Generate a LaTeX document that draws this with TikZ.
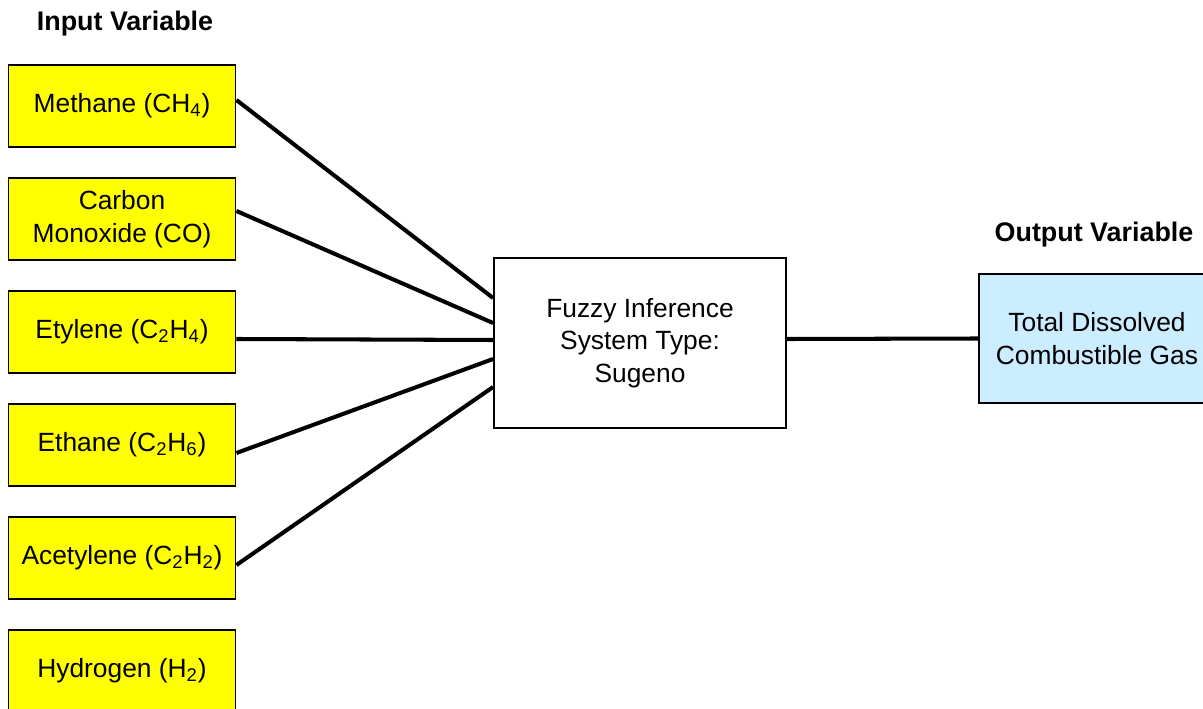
\documentclass[tikz,border=0pt]{standalone}
\usepackage{fontspec}
\setmainfont{Liberation Sans}
\definecolor{gasyellow}{RGB}{255,255,0}
\definecolor{outblue}{RGB}{204,236,255}
\begin{document}
\begin{tikzpicture}[x=0.02cm,y=-0.02cm,
  every node/.style={font=\fontsize{15}{18.5}\selectfont,align=center},
  gas/.style={draw,line width=1.1pt,fill=gasyellow,minimum width=4.54cm,minimum height=1.64cm,inner sep=0pt},
  fisbox/.style={draw,line width=1.1pt,fill=white,minimum width=5.84cm,minimum height=3.4cm,inner sep=0pt},
  outbox/.style={draw,line width=1.1pt,fill=outblue,minimum width=4.72cm,minimum height=2.58cm,inner sep=0pt},
  title/.style={font=\fontsize{15.3}{18}\selectfont\bfseries},
  link/.style={line width=2.3pt}]
\clip (0,0) rectangle (1203,709);
\node[title] (tin) at (125,24) {Input Variable};
\node[title] (tout) at (1094,235) {Output Variable};
\node[gas] (ch4) at (122,106) {Methane (CH\textsubscript{4})};
\node[gas] (co) at (122,219) {Carbon\\Monoxide (CO)};
\node[gas] (c2h4) at (122,332) {Etylene (C\textsubscript{2}H\textsubscript{4})};
\node[gas] (c2h6) at (122,445) {Ethane (C\textsubscript{2}H\textsubscript{6})};
\node[gas] (c2h2) at (122,558) {Acetylene (C\textsubscript{2}H\textsubscript{2})};
\node[gas] (h2) at (122,671) {Hydrogen (H\textsubscript{2})};
\node[fisbox] (fis) at (640,343) {Fuzzy Inference\\System Type:\\Sugeno};
\node[outbox] (tdcg) at (1097,338.5) {Total Dissolved\\Combustible Gas};
\draw[link] ([yshift=0.12cm]ch4.east)--([yshift=0.9cm]fis.west)
  ([yshift=0.16cm]co.east)--([yshift=0.4cm]fis.west)
  ([yshift=-0.14cm]c2h4.east)--([yshift=0.06cm]fis.west)
  ([yshift=-0.16cm]c2h6.east)--([yshift=-0.32cm]fis.west)
  ([yshift=-0.14cm]c2h2.east)--([yshift=-0.88cm]fis.west);
\draw[link] ([yshift=0.08cm]fis.east)--(tdcg.west);
\end{tikzpicture}
\end{document}
